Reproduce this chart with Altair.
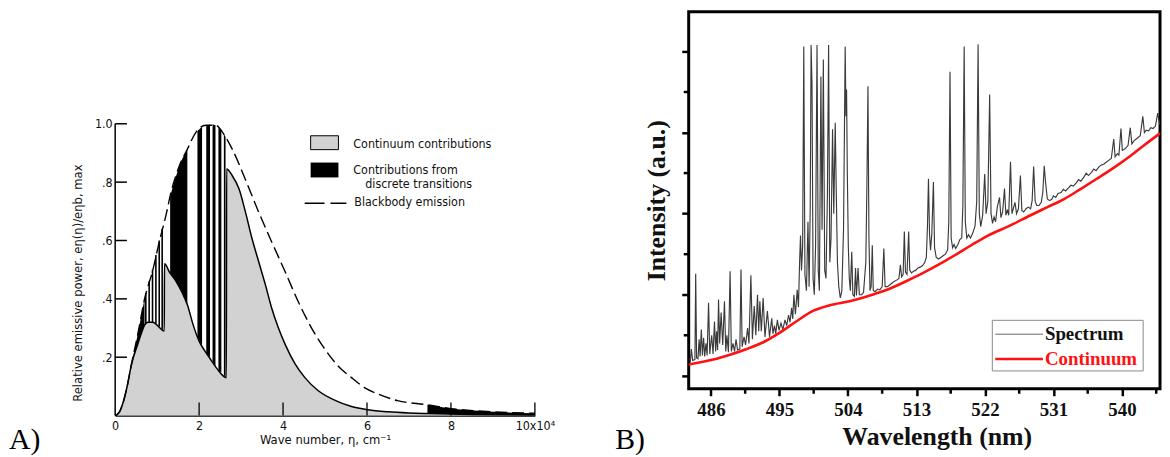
import altair as alt
import pandas as pd

# ---------------- Panel A data (wave number in units of 1e4 cm^-1) ----------------
bb_x = [0.0, 0.1, 0.2, 0.3, 0.38, 0.54, 0.70, 0.90, 1.05, 1.21, 1.33, 1.53, 1.72, 1.92, 2.16, 2.39,
        2.59, 2.79, 3.10, 3.42, 3.73, 4.05, 4.36, 4.68, 5.0, 5.31, 5.63, 5.94, 6.26, 6.73, 7.44,
        8.0, 8.87, 10.0]
bb_y = [0.0, 0.012, 0.05, 0.11, 0.17, 0.28, 0.40, 0.50, 0.595, 0.686, 0.765, 0.856, 0.913, 0.97,
        0.995, 0.995, 0.964, 0.913, 0.81, 0.697, 0.595, 0.493, 0.391, 0.30, 0.227, 0.17, 0.13,
        0.096, 0.074, 0.051, 0.037, 0.024, 0.014, 0.008]

cont_x = [0.0, 0.1, 0.2, 0.3, 0.38, 0.54, 0.62, 0.70, 0.78, 0.90, 1.0, 1.17, 1.175, 1.30, 1.45,
          1.60, 1.72, 1.86, 2.0, 2.12, 2.24, 2.43, 2.65, 2.655, 2.79, 2.95, 3.10, 3.26, 3.42, 3.58,
          3.73, 3.89, 4.05, 4.29, 4.52, 4.84, 5.24, 5.63, 6.02, 6.5, 7.0, 7.44, 8.5, 10.0]
cont_y = [0.0, 0.012, 0.05, 0.11, 0.17, 0.245, 0.28, 0.31, 0.32, 0.32, 0.31, 0.29, 0.52, 0.49,
          0.46, 0.42, 0.38, 0.31, 0.255, 0.225, 0.20, 0.16, 0.13, 0.845, 0.822, 0.777, 0.70, 0.607,
          0.527, 0.448, 0.368, 0.30, 0.244, 0.176, 0.13, 0.085, 0.052, 0.031, 0.02, 0.013, 0.009,
          0.007, 0.004, 0.002]

# discrete-transition (black) regions between continuum and blackbody
black_x = [0.38, 0.46, 0.54, 0.62, 0.70, 1.31, 1.45, 1.60, 1.72, 7.44, 8.0, 8.87, 10.0]
black_lo = [0.17, 0.21, 0.245, 0.28, 0.31, 0.49, 0.46, 0.42, 0.38, 0.007, 0.005, 0.003, 0.002]
black_hi = [0.17, 0.225, 0.28, 0.34, 0.40, 0.75, 0.82, 0.88, 0.913, 0.037, 0.024, 0.014, 0.008]
black_grp = [1, 1, 1, 1, 1, 2, 2, 2, 2, 3, 3, 3, 3]

# thin vertical line contributions
stripe_x = [0.73, 0.81, 0.89, 0.97, 1.05, 1.12]
stripe_lo = [0.315, 0.32, 0.32, 0.315, 0.305, 0.295]
stripe_hi = [0.42, 0.46, 0.50, 0.55, 0.60, 0.64]

# thick vertical bar contributions
bar_x0 = [1.96, 2.17, 2.32, 2.46, 2.59]
bar_x1 = [2.07, 2.26, 2.39, 2.53, 2.63]
bar_lo0 = [0.27, 0.215, 0.185, 0.155, 0.138]
bar_lo1 = [0.24, 0.20, 0.17, 0.148, 0.133]
bar_hi0 = [0.975, 0.995, 0.998, 0.99, 0.965]
bar_hi1 = [0.99, 0.997, 0.995, 0.98, 0.955]

a_xticks = [2, 4, 6, 8, 10]
a_yticks = [0.2, 0.4, 0.6, 0.8, 1.0]
a_xlabels = [0, 2, 4, 6, 8, 10]

# ---------------- Panel B data ----------------
b_cont_nm = [483.1, 486.3, 488.5, 490.7, 493.0, 495.0, 497.2, 499.4, 501.6, 504.2, 507.2, 509.4,
             511.5, 513.7, 515.9, 518.1, 520.2, 522.4, 525.0, 528.0, 530.2, 532.4, 534.5, 536.7,
             539.0, 541.1, 543.0, 545.0]
b_cont_val = [1.14, 1.20, 1.26, 1.33, 1.42, 1.53, 1.67, 1.80, 1.87, 1.92, 2.00, 2.07, 2.16, 2.26,
              2.37, 2.49, 2.61, 2.73, 2.84, 2.98, 3.08, 3.18, 3.30, 3.43, 3.57, 3.71, 3.85, 3.99]

spec_blue = [
    (483.10, 1.22), (483.30, 1.18), (483.43, 1.33), (483.60, 1.19), (483.90, 1.20), (484.00, 2.26),
    (484.12, 1.22), (484.30, 1.21), (484.45, 1.45), (484.58, 1.24), (484.74, 1.57), (484.88, 1.25),
    (485.04, 1.47), (485.18, 1.24), (485.35, 1.40), (485.50, 1.25), (485.69, 1.90), (485.85, 1.27),
    (486.10, 1.50), (486.28, 1.27), (486.47, 1.67), (486.62, 1.30), (486.75, 1.55), (486.88, 1.32),
    (487.00, 1.94), (487.15, 1.40), (487.34, 1.78), (487.55, 1.38), (487.78, 1.92), (487.95, 1.30),
    (488.10, 1.50), (488.30, 1.29), (488.52, 2.29), (488.68, 1.30), (488.90, 1.40), (489.10, 1.30),
    (489.30, 1.45), (489.50, 1.32), (489.80, 1.33), (489.95, 2.31), (490.10, 1.36), (490.35, 1.48),
    (490.55, 1.38), (490.82, 1.59), (491.00, 1.40), (491.25, 2.24), (491.45, 1.45), (491.69, 1.86),
    (491.90, 1.50), (492.12, 2.00), (492.28, 1.55), (492.43, 1.92), (492.62, 1.55), (492.86, 1.96),
    (493.10, 1.48), (493.42, 1.80), (493.70, 1.48), (493.99, 1.71), (494.15, 1.52), (494.35, 1.62),
    (494.52, 1.52), (494.73, 1.69), (494.95, 1.56), (495.20, 1.65), (495.45, 1.57), (495.73, 1.69),
    (495.95, 1.62), (496.20, 1.75), (496.40, 1.66), (496.60, 1.84), (496.75, 1.70), (496.90, 2.00),
    (497.10, 1.76), (497.34, 2.06), (497.50, 1.85), (497.65, 2.40), (497.77, 2.73),
]
spec_cluster = [
    (497.90, 2.30), (498.05, 2.60), (498.20, 5.06), (498.35, 2.25), (498.55, 2.05), (498.75, 2.90),
    (498.90, 2.10), (499.05, 3.10), (499.16, 5.08), (499.28, 4.60), (499.42, 2.20), (499.58, 2.00),
    (499.75, 2.60), (499.94, 5.08), (500.10, 2.30), (500.25, 2.05), (500.45, 4.69), (500.60, 2.80),
    (500.77, 4.90), (500.95, 2.30), (501.12, 2.20), (501.30, 3.20), (501.46, 5.08), (501.62, 2.40),
    (501.78, 2.70), (501.98, 4.04), (502.14, 3.00), (502.33, 4.12), (502.48, 3.20), (502.62, 2.40),
    (502.80, 2.10), (503.00, 1.96), (503.20, 2.05), (503.42, 2.80), (503.64, 5.06), (503.74, 4.20),
    (503.82, 4.53), (503.92, 3.50), (504.05, 2.60), (504.18, 2.20),
]
spec_mid = [
    (504.32, 2.05), (504.50, 2.53), (504.65, 2.00), (504.85, 1.98), (505.00, 2.33), (505.12, 1.99),
    (505.33, 2.33), (505.50, 2.00), (505.80, 2.00), (506.05, 2.03), (506.35, 2.40), (506.50, 3.40),
    (506.63, 4.57), (506.76, 2.70), (506.90, 2.05), (507.05, 2.10), (507.20, 2.61), (507.33, 2.05),
    (507.60, 2.04), (507.90, 2.07), (508.20, 2.06), (508.50, 2.10), (508.72, 2.57), (508.88, 2.10),
    (509.20, 2.10), (509.60, 2.13), (510.00, 2.16), (510.40, 2.18), (510.70, 2.20), (510.89, 2.37),
    (511.05, 2.22), (511.25, 2.25), (511.41, 2.78), (511.56, 2.28), (511.76, 2.25), (511.98, 2.78),
    (512.12, 2.30), (512.35, 2.27), (512.60, 2.29), (512.90, 2.30), (513.20, 2.33), (513.50, 2.34),
    (513.80, 2.36), (514.10, 2.40), (514.30, 2.46), (514.45, 2.85), (514.58, 3.43), (514.72, 2.75),
    (514.85, 2.55), (515.02, 2.75), (515.23, 3.39), (515.38, 2.58), (515.60, 2.46), (515.90, 2.44),
]
spec_green = [
    (516.20, 2.46), (516.50, 2.48), (516.80, 2.50), (517.10, 2.55), (517.25, 2.90), (517.41, 4.75),
    (517.56, 2.70), (517.75, 2.58), (517.95, 2.62), (518.15, 2.57), (518.45, 2.62), (518.70, 2.68),
    (518.95, 2.70), (519.10, 3.10), (519.27, 5.06), (519.42, 2.90), (519.62, 2.70), (519.85, 2.74),
    (520.10, 2.70), (520.40, 2.76), (520.70, 2.85), (520.92, 3.15), (521.10, 5.09), (521.26, 3.00),
    (521.45, 2.84), (521.70, 2.98), (521.97, 3.49), (522.15, 3.00), (522.38, 3.15), (522.62, 4.47),
    (522.80, 3.00), (523.00, 2.88), (523.20, 2.96), (523.40, 2.90), (523.62, 3.08), (523.92, 3.20),
    (524.10, 2.95), (524.32, 3.02), (524.57, 3.31), (524.75, 2.98),
]
spec_red = [
    (524.95, 3.05), (525.12, 2.98), (525.36, 3.64), (525.55, 3.00), (525.78, 3.08), (525.95, 3.14),
    (526.15, 3.00), (526.40, 3.06), (526.66, 3.47), (526.85, 3.04), (527.10, 3.02), (527.40, 3.06),
    (527.70, 3.08), (528.00, 3.06), (528.20, 3.16), (528.40, 3.58), (528.60, 3.15), (528.80, 3.10),
    (529.10, 3.10), (529.40, 3.14), (529.60, 3.26), (529.79, 3.59), (529.95, 3.40), (530.20, 3.18),
    (530.50, 3.16), (530.80, 3.18), (531.00, 3.22), (531.30, 3.20), (531.60, 3.25), (532.00, 3.26),
    (532.30, 3.30), (532.60, 3.28), (533.00, 3.32), (533.30, 3.35), (533.60, 3.34), (534.00, 3.38),
    (534.30, 3.42), (534.60, 3.40), (535.00, 3.45), (535.30, 3.50), (535.60, 3.47), (536.00, 3.51),
    (536.30, 3.55), (536.60, 3.53), (537.00, 3.58), (537.30, 3.60), (537.60, 3.61), (538.00, 3.64),
    (538.30, 3.66), (538.60, 3.68), (538.92, 3.92), (539.10, 3.70), (539.40, 3.74), (539.60, 3.72),
    (539.87, 4.05), (540.05, 3.78), (540.40, 3.80), (540.80, 3.84), (541.09, 4.06), (541.30, 3.86),
    (541.60, 3.90), (542.00, 3.93), (542.40, 3.96), (542.74, 4.20), (542.95, 4.00), (543.20, 4.03),
    (543.50, 4.02), (543.80, 4.06), (544.10, 4.05), (544.40, 4.08), (544.70, 4.24), (544.95, 4.10),
]

b_xticks = [486, 495, 504, 513, 522, 531, 540]
b_xminor = [490.5, 499.5, 508.5, 517.5, 526.5, 535.5, 544.5]
b_yticks = [1, 2, 3, 4, 5]
b_yminor = [1.5, 2.5, 3.5, 4.5]
SPEC_COLOR = "#3a3a3a"
CONT_COLOR = "#ff1111"

# ---------------- styling ----------------
FA = "DejaVu Sans Condensed, Liberation Sans Narrow, sans-serif"
FB = "Liberation Serif, Times New Roman, serif"
GRAY = "#d2d2d2"

A_W, A_H = 423, 407
A_YMAX = 1.384

scA_x = alt.Scale(domain=[0, 10], nice=False, zero=False)
scA_y = alt.Scale(domain=[0, A_YMAX], nice=False, zero=False)
axA_x = alt.Axis(values=a_xlabels, labelExpr="datum.value == 10 ? '10x10⁴' : datum.label",
                 title="Wave number, η, cm⁻¹", tickSize=0, domain=True, domainColor="black",
                 domainWidth=1.5, grid=False, labelFont=FA, labelFontSize=12.5, labelColor="#111",
                 labelPadding=4, labelFlush=False, titleFont=FA, titleFontSize=13,
                 titleFontWeight="normal", titleColor="#111", titlePadding=2)
axA_y = alt.Axis(values=a_yticks,
                 labelExpr="datum.value == 1 ? '1.0' : replace(format(datum.value, '.1f'), '0.', '.')",
                 title="Relative emissive power,  eη(η)/eηb, max", domain=False, tickSize=0,
                 grid=False, labelFont=FA, labelFontSize=12.5, labelColor="#111", labelPadding=3,
                 labelFlush=False, titleFont=FA, titleFontSize=13, titleFontWeight="normal",
                 titleColor="#111", titleX=-38, titleY=273, titleBaseline="middle")


def ax(f):
    return alt.X(f"{f}:Q", scale=scA_x, axis=axA_x)


def ay(f):
    return alt.Y(f"{f}:Q", scale=scA_y, axis=axA_y)


df_cont = pd.DataFrame({"x": cont_x, "y": cont_y})
df_bb = pd.DataFrame({"x": bb_x, "y": bb_y})
df_black = pd.DataFrame({"x": black_x, "lo": black_lo, "hi": black_hi, "g": black_grp})
df_stripe = pd.DataFrame({"x": stripe_x, "lo": stripe_lo, "hi": stripe_hi})
bar_rows = []
for i in range(len(bar_x0)):
    bar_rows.append({"bar": i, "x": bar_x0[i], "lo": bar_lo0[i], "hi": bar_hi0[i]})
    bar_rows.append({"bar": i, "x": bar_x1[i], "lo": bar_lo1[i], "hi": bar_hi1[i]})
df_bar = pd.DataFrame(bar_rows)
df_yax = pd.DataFrame({"x": [0.0], "lo": [0.0], "hi": [1.0]})
df_ytk = pd.DataFrame({"x0": [0.0] * len(a_yticks), "x1": [0.28] * len(a_yticks), "v": a_yticks})
df_xtk = pd.DataFrame({"v": a_xticks, "y0": [0.0] * len(a_xticks), "y1": [0.045] * len(a_xticks)})
one = pd.DataFrame({"a": [1]})


def txt(s, x, y, font, size, color="#111", weight="normal"):
    return alt.Chart(one).mark_text(text=s, align="left", baseline="middle", font=font,
                                    fontSize=size, color=color, fontWeight=weight).encode(
        x=alt.value(x), y=alt.value(y))


a_layers = [
    alt.Chart(df_cont).mark_area(color=GRAY, interpolate="monotone").encode(x=ax("x"), y=ay("y")),
    alt.Chart(df_black).mark_area(color="black", interpolate="monotone").encode(
        x=ax("x"), y=ay("lo"), y2="hi:Q", detail="g:N"),
    alt.Chart(df_bar).mark_area(color="black").encode(x=ax("x"), y=ay("lo"), y2="hi:Q", detail="bar:N"),
    alt.Chart(df_stripe).mark_rule(color="black", strokeWidth=1.6).encode(x=ax("x"), y=ay("lo"), y2="hi:Q"),
    alt.Chart(df_bb).mark_line(color="black", strokeWidth=1.4, strokeDash=[12, 5],
                               interpolate="monotone").encode(x=ax("x"), y=ay("y")),
    alt.Chart(df_cont).mark_line(color="black", strokeWidth=1.5, interpolate="monotone").encode(
        x=ax("x"), y=ay("y")),
    alt.Chart(df_yax).mark_rule(color="black", strokeWidth=1.5).encode(x=ax("x"), y=ay("lo"), y2="hi:Q"),
    alt.Chart(df_ytk).mark_rule(color="black", strokeWidth=1.5).encode(x=ax("x0"), x2="x1:Q", y=ay("v")),
    alt.Chart(df_xtk).mark_rule(color="black", strokeWidth=1.3).encode(x=ax("v"), y=ay("y0"), y2="y1:Q"),
    # legend (panel A)
    alt.Chart(one).mark_rect(fill=GRAY, stroke="black", strokeWidth=1).encode(
        x=alt.value(197), x2=alt.value(225), y=alt.value(125), y2=alt.value(139)),
    alt.Chart(one).mark_rect(fill="black").encode(
        x=alt.value(197), x2=alt.value(225), y=alt.value(152), y2=alt.value(167)),
    alt.Chart(one).mark_rule(color="black", strokeWidth=1.5, strokeDash=[20, 6]).encode(
        x=alt.value(191), x2=alt.value(233), y=alt.value(193)),
    txt("Continuum contributions", 240, 133, FA, 12.5),
    txt("Contributions from", 240, 160, FA, 12.5),
    txt("discrete transitions", 252, 174, FA, 12.5),
    txt("Blackbody emission", 241, 192, FA, 12.5),
    txt("A)", -107, 432, FB, 30, "black"),
]
chart_a = alt.layer(*a_layers).properties(width=A_W, height=A_H)

# ---------------- Panel B ----------------
B_W, B_H = 475, 380
scB_x = alt.Scale(domain=[483.08, 545.0], nice=False, zero=False)
scB_y = alt.Scale(domain=[0.84, 5.49], nice=False, zero=False)
axB_x = alt.Axis(values=b_xticks, title="Wavelength (nm)", domain=False, grid=False, tickSize=7,
                 tickWidth=2.5, tickColor="black", labelFont=FB, labelFontSize=19,
                 labelFontWeight="bold", labelColor="#111", labelPadding=5, labelFlush=False,
                 titleFont=FB, titleFontSize=26, titleFontWeight="bold", titleColor="#111",
                 titlePadding=4, titleX=250)
axB_y = alt.Axis(values=b_yticks, labels=False, title="Intensity (a.u.)", domain=False, grid=False,
                 tickSize=7, tickWidth=2.5, tickColor="black", titleFont=FB, titleFontSize=26,
                 titleFontWeight="bold", titleColor="#111", titlePadding=11)


def bx(f):
    return alt.X(f"{f}:Q", scale=scB_x, axis=axB_x)


def by(f):
    return alt.Y(f"{f}:Q", scale=scB_y, axis=axB_y)


spec_all = spec_blue + spec_cluster + spec_mid + spec_green + spec_red
df_spec = pd.DataFrame({"nm": [p[0] for p in spec_all], "v": [p[1] for p in spec_all]})
df_bcont = pd.DataFrame({"nm": b_cont_nm, "v": b_cont_val})
df_bxm = pd.DataFrame({"v": b_xminor})
df_bym = pd.DataFrame({"v": b_yminor})

b_layers = [
    alt.Chart(df_spec).mark_line(strokeWidth=1.15, color=SPEC_COLOR, clip=True).encode(
        x=bx("nm"), y=by("v")),
    alt.Chart(df_bcont).mark_line(strokeWidth=2.6, color=CONT_COLOR, interpolate="monotone",
                                  clip=True).encode(x=bx("nm"), y=by("v")),
    alt.Chart(df_bxm).mark_rule(color="black", strokeWidth=2.5).encode(
        x=bx("v"), y=alt.value(B_H), y2=alt.value(B_H + 5)),
    alt.Chart(df_bym).mark_rule(color="black", strokeWidth=2.5).encode(
        y=by("v"), x=alt.value(0), x2=alt.value(-5)),
    # legend (panel B)
    alt.Chart(one).mark_rect(fill="white", stroke="#888888", strokeWidth=1).encode(
        x=alt.value(306), x2=alt.value(458), y=alt.value(311), y2=alt.value(362)),
    alt.Chart(one).mark_rule(color="#666666", strokeWidth=1).encode(
        x=alt.value(309), x2=alt.value(357), y=alt.value(325)),
    alt.Chart(one).mark_rule(color=CONT_COLOR, strokeWidth=2.6).encode(
        x=alt.value(309), x2=alt.value(357), y=alt.value(350)),
    txt("Spectrum", 359, 325, FB, 19, "#111111", "bold"),
    txt("Continuum", 359, 350, FB, 19, CONT_COLOR, "bold"),
    txt("B)", -74, 432, FB, 30, "black"),
]
chart_b = alt.layer(*b_layers).properties(
    width=B_W, height=B_H, view=alt.ViewBackground(stroke="black", strokeWidth=3))

chart = alt.hconcat(chart_a, chart_b, spacing=58).properties(
    padding={"left": 0, "top": 0, "right": 0, "bottom": 0}
).configure_view(stroke="transparent")

chart.save("out.html", embed_options={"renderer": "svg", "actions": False})
